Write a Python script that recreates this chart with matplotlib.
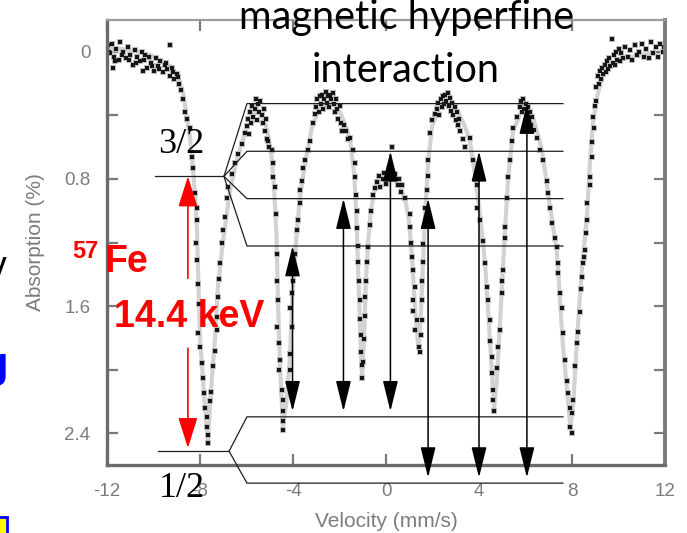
import matplotlib.pyplot as plt
from matplotlib.patches import Rectangle

plt.rcParams['font.family'] = ['Liberation Sans', 'DejaVu Sans']
plt.rcParams['axes.unicode_minus'] = False

# Measured 57Fe Moessbauer spectrum: velocity (mm/s) and absorption (%)
meas_v = [
    # left wing
    -11.95, -11.85, -11.78, -11.74, -11.7, -11.6, -11.5, -11.42, -11.3, -11.2, -11.1, -11.0,
    -10.9, -10.8, -10.7, -10.6, -10.5, -10.45, -10.4, -10.3, -10.2, -10.1, -10.0, -9.9,
    -9.8, -9.7, -9.6, -9.5, -9.4, -9.3, -9.29, -9.2, -9.1, -9.0, -8.9, -8.8, -8.72,
    -11.9, -11.65, -11.35, -11.05, -10.75, -10.35, -10.05, -9.75, -9.45, -9.15, -8.95,
    # line 1
    -8.65, -8.56, -8.43, -8.34, -8.30, -8.22, -8.13, -8.13, -8.17, -8.13, -8.09, -8.04,
    -8.09, -8.00, -7.91, -7.87, -7.83, -7.78, -7.70, -7.70, -7.66, -7.66,
    -7.57, -7.53, -7.44, -7.35, -7.27, -7.27, -7.23, -7.18, -7.14, -7.05, -7.01, -6.92,
    -6.84, -6.80, -6.62, -6.49, -6.37, -6.19, -6.06,
    -6.0, -5.95, -5.9, -5.85, -5.8, -5.75, -5.7, -5.65, -5.6, -5.55, -5.5, -5.45,
    -5.4, -5.35, -5.3, -5.25, -5.2, -5.15, -5.1, -5.05,
    # line 2
    -5.08, -4.90, -4.86, -4.86, -4.77, -4.73, -4.69, -4.69, -4.65, -4.69, -4.60, -4.56,
    -4.60, -4.47, -4.43, -4.43, -4.43, -4.43,
    -4.13, -4.13, -4.04, -4.13, -4.04, -4.00, -3.91, -3.83, -3.78, -3.70, -3.70, -3.61,
    -3.57, -3.48, -3.35, -3.27, -3.14, -3.05,
    -3.0, -2.95, -2.9, -2.85, -2.8, -2.75, -2.7, -2.65, -2.6, -2.55, -2.5, -2.45,
    -2.4, -2.35, -2.3, -2.25, -2.2, -2.15, -2.1, -2.05, -2.0, -1.95, -1.9,
    -1.8, -1.7, -1.62,
    # line 3
    -1.55, -1.42, -1.33, -1.33, -1.29, -1.25, -1.25, -1.20, -1.20, -1.16, -1.12, -1.12,
    -1.08, -1.08, -1.03, -1.03,
    -0.99, -0.95, -0.90, -0.90, -0.86, -0.82, -0.77, -0.69, -0.65, -0.56, -0.47,
    -0.4, -0.3, -0.25, -0.15, -0.1, 0.0, 0.05, 0.15, 0.24, 0.3, 0.4, 0.5, 0.55, 0.65,
    0.7, 0.8,
    # line 4
    1.03, 1.03, 1.08, 1.12, 1.16, 1.25, 1.16, 1.16, 1.33, 1.25, 1.42, 1.46,
    1.51, 1.55, 1.55, 1.55, 1.59, 1.59, 1.68, 1.68, 1.76, 1.81, 1.81, 1.89, 1.98, 2.11,
    2.2, 2.25, 2.3, 2.35, 2.4, 2.45, 2.5, 2.55, 2.6, 2.65, 2.7, 2.75,
    2.8, 2.85, 2.9, 2.95, 3.0, 3.05, 3.1, 3.15, 3.2, 3.3, 3.4,
    # line 5
    3.61, 3.74, 3.91, 3.91, 4.04, 4.17, 4.26, 4.34, 4.39, 4.47, 4.47, 4.56,
    4.56, 4.60, 4.60, 4.65,
    4.77, 4.82, 4.90, 4.99, 4.99, 5.03, 5.12, 5.12, 5.20, 5.25, 5.33, 5.42,
    5.46, 5.63, 5.76,
    5.8, 5.85, 5.9, 5.95, 6.0, 6.05, 6.1, 6.15, 6.2, 6.25, 6.3, 6.38,
    # line 6
    6.49, 6.62, 6.75, 6.92, 6.97, 7.05, 7.14, 7.27, 7.35, 7.40, 7.40, 7.48,
    7.57, 7.61, 7.70, 7.78, 7.83, 7.91, 8.00, 7.91, 8.00,
    8.04, 8.13, 8.22, 8.26, 8.34, 8.39, 8.43, 8.47, 8.52, 8.56, 8.60, 8.65,
    8.65, 8.77, 8.77, 8.86, 8.86, 8.95, 8.90, 8.99, 9.03,
    # right wing
    9.05, 9.1, 9.15, 9.2, 9.25, 9.3, 9.35, 9.4, 9.45, 9.5, 9.55, 9.6,
    9.65, 9.7, 9.75, 9.8, 9.85, 9.9, 9.95, 10.0, 10.05, 10.1, 10.2, 10.3,
    10.4, 10.5, 10.6, 10.7, 10.8, 10.9, 11.0, 11.1, 11.2, 11.3, 11.4, 11.5,
    11.6, 11.7, 11.8, 11.9, 11.95,
]
meas_a = [
    # left wing
    -0.04, 0.01, -0.05, 0.10, 0.03, -0.02, 0.05, -0.06, 0.00, 0.04, -0.03, 0.02,
    0.08, -0.01, 0.03, 0.06, 0.00, 0.12, 0.05, 0.10, 0.03, 0.07, 0.12, 0.04,
    0.09, 0.06, 0.13, 0.08, 0.11, 0.15, -0.04, 0.10, 0.17, 0.14, 0.20, 0.24, 0.30,
    0.00, 0.06, 0.02, 0.05, 0.07, 0.02, 0.09, 0.11, 0.07, 0.13, 0.16,
    # line 1
    0.38, 0.42, 0.48, 0.66, 0.73, 0.89, 0.98, 1.06, 1.20, 1.31, 1.46, 1.59,
    1.77, 1.86, 1.96, 2.05, 2.15, 2.24, 2.30, 2.36, 2.41, 2.46,
    2.20, 2.14, 1.98, 1.88, 1.75, 1.67, 1.54, 1.43, 1.33, 1.20, 1.12, 1.04,
    0.92, 0.85, 0.77, 0.70, 0.64, 0.58, 0.51,
    0.47, 0.42, 0.52, 0.38, 0.45, 0.34, 0.41, 0.36, 0.30, 0.43, 0.33, 0.38,
    0.31, 0.40, 0.45, 0.36, 0.50, 0.42, 0.55, 0.60,
    # line 2
    0.56, 0.62, 0.70, 0.79, 0.85, 1.02, 1.27, 1.44, 1.56, 1.73, 1.83, 1.94,
    2.00, 2.13, 2.19, 2.26, 2.32, 2.38,
    2.00, 1.90, 1.73, 1.61, 1.52, 1.44, 1.27, 1.12, 1.06, 0.95, 0.87, 0.81,
    0.73, 0.68, 0.62, 0.56, 0.45, 0.39,
    0.35, 0.30, 0.38, 0.28, 0.33, 0.27, 0.36, 0.30, 0.25, 0.32, 0.28, 0.35,
    0.27, 0.30, 0.26, 0.33, 0.38, 0.30, 0.36, 0.42, 0.34, 0.45, 0.50,
    0.46, 0.50, 0.55,
    # line 3
    0.54, 0.62, 0.70, 0.79, 0.90, 1.00, 1.11, 1.22, 1.32, 1.44, 1.56, 1.68,
    1.78, 1.89, 1.97, 2.05,
    1.95, 1.81, 1.66, 1.54, 1.44, 1.32, 1.23, 1.09, 1.00, 0.90, 0.86,
    0.82, 0.78, 0.85, 0.80, 0.76, 0.83, 0.78, 0.74, 0.60, 0.80, 0.77, 0.84, 0.80, 0.88,
    0.84, 0.92,
    # line 4
    1.02, 1.10, 1.20, 1.29, 1.37, 1.48, 1.56, 1.63, 1.69, 1.75, 1.86, 1.89,
    1.78, 1.69, 1.56, 1.44, 1.32, 1.21, 1.09, 0.98, 0.87, 0.78, 0.68, 0.51, 0.43, 0.39,
    0.36, 0.32, 0.40, 0.30, 0.35, 0.28, 0.33, 0.27, 0.31, 0.26, 0.34, 0.29,
    0.37, 0.32, 0.40, 0.35, 0.43, 0.38, 0.46, 0.42, 0.50, 0.55, 0.60,
    # line 5
    0.54, 0.68, 0.84, 0.98, 1.06, 1.19, 1.33, 1.48, 1.56, 1.69, 1.82, 1.92,
    2.02, 2.13, 2.19, 2.26,
    1.99, 1.86, 1.75, 1.52, 1.44, 1.37, 1.17, 1.10, 0.92, 0.79, 0.68, 0.56,
    0.48, 0.41, 0.35,
    0.31, 0.38, 0.30, 0.36, 0.33, 0.40, 0.35, 0.43, 0.38, 0.46, 0.41, 0.49,
    # line 6
    0.54, 0.62, 0.68, 0.81, 0.89, 0.98, 1.08, 1.17, 1.23, 1.33, 1.39, 1.52,
    1.61, 1.77, 1.94, 2.07, 2.15, 2.24, 2.27, 2.36, 2.40,
    2.19, 1.98, 1.83, 1.76, 1.64, 1.49, 1.42, 1.33, 1.29, 1.25, 1.14, 1.06,
    0.95, 0.84, 0.79, 0.66, 0.57, 0.48, 0.41, 0.34, 0.31,
    # right wing
    0.22, 0.15, 0.20, 0.12, 0.17, 0.10, 0.14, 0.08, 0.13, 0.06, 0.11, 0.04,
    0.09, -0.08, 0.07, 0.02, 0.08, 0.00, 0.05, -0.02, 0.06, 0.01, 0.04, -0.03,
    0.03, -0.01, 0.05, -0.04, 0.02, 0.00, -0.05, 0.03, -0.02, 0.04, -0.06, 0.01,
    -0.03, 0.03, -0.05, 0.00, -0.03,
]

# Fitted six-line curve
fit_v = [-12.0, -11.0, -10.15, -9.6, -9.29, -9.05, -8.86, -8.7, -8.56, -8.42, -8.30, -8.20,
         -8.13, -8.07, -8.0, -7.91, -7.78, -7.66, -7.57, -7.45, -7.35, -7.23, -7.01, -6.71,
         -6.45, -6.19, -5.85, -5.55, -5.29, -5.1, -4.95, -4.83, -4.71, -4.64, -4.56, -4.43,
         -4.28, -4.13, -4.02, -3.83, -3.70, -3.48, -3.18, -2.84, -2.41, -1.98, -1.72, -1.52,
         -1.36, -1.26, -1.18, -1.10, -1.03, -0.95, -0.87, -0.77, -0.65, -0.50, -0.26, 0.17,
         0.6, 0.85, 0.98, 1.12, 1.25, 1.40, 1.50, 1.57, 1.68, 1.81, 1.98, 2.32,
         2.67, 3.10, 3.40, 3.61, 3.85, 4.04, 4.26, 4.39, 4.56, 4.65, 4.75, 4.86,
         4.99, 5.12, 5.25, 5.46, 5.89, 6.32, 6.71, 7.05, 7.35, 7.48, 7.61, 7.78,
         7.93, 8.05, 8.16, 8.30, 8.43, 8.65, 8.77, 8.90, 9.08, 9.33, 9.85, 10.92, 12.0]
fit_a = [-0.03, -0.01, 0.02, 0.06, 0.09, 0.13, 0.19, 0.28, 0.42, 0.55, 0.74, 0.93,
         1.12, 1.45, 1.80, 1.98, 2.25, 2.45, 2.22, 1.98, 1.80, 1.48, 1.19, 0.87,
         0.70, 0.57, 0.42, 0.36, 0.41, 0.50, 0.62, 0.82, 1.15, 1.60, 1.98, 2.36,
         2.20, 1.92, 1.50, 1.12, 0.92, 0.70, 0.47, 0.35, 0.31, 0.38, 0.47, 0.58,
         0.78, 1.10, 1.45, 1.80, 2.04, 1.82, 1.45, 1.20, 1.00, 0.88, 0.81, 0.79,
         0.84, 0.95, 1.05, 1.29, 1.62, 1.87, 1.65, 1.40, 1.03, 0.70, 0.47, 0.34,
         0.31, 0.38, 0.47, 0.56, 0.80, 1.02, 1.33, 1.62, 2.03, 2.24, 2.10, 1.82,
         1.47, 1.12, 0.80, 0.50, 0.35, 0.41, 0.62, 0.97, 1.26, 1.55, 1.85, 2.12,
         2.36, 2.22, 1.95, 1.62, 1.36, 1.02, 0.70, 0.45, 0.28, 0.14, 0.06, 0.02, 0.00]

# 57Fe nuclear levels, placed on the absorption scale
excited_level = 0.784
excited_split = [0.326, 0.626, 0.924, 1.222]
ground_level = 2.513
ground_split = [2.297, 2.714]

# allowed transitions: velocity, ground sublevel, excited sublevel
trans_v = [-4.02, -1.83, 0.19, 1.81, 4.0, 6.06]
trans_g = [0, 0, 0, 1, 1, 1]
trans_e = [3, 2, 1, 2, 1, 0]

x_ticks = [-12, -8, -4, 0, 4, 8, 12]
y_ticks = [0, 0.8, 1.6, 2.4]
y_tick_labels = ['0', '0.8', '1.6', '2.4']
y_minor = [0.4, 1.2, 2.0]

W, H = 687, 533
fig = plt.figure(figsize=(W / 100, H / 100), dpi=100)
ax = fig.add_axes([107 / W, 68 / H, 558 / W, 445 / H])


def fpos(x, y):
    # pixel position (from top-left) -> figure fraction
    return x / W, 1 - y / H


ax.plot(fit_v, fit_a, color='#d2d2d2', lw=3, zorder=1)
# soft halo under the points, then the points themselves
ax.plot(meas_v, meas_a, 's', ms=4.2, mew=0, color='#bdbdbd', zorder=2)
ax.plot(meas_v, meas_a, 's', ms=2.9, mew=0, color='#151515', zorder=2)

ax.set_xlim(-12, 12)
ax.set_ylim(2.6, -0.2)
ax.set_xticks(x_ticks)
ax.set_yticks(y_ticks)
ax.set_yticklabels(y_tick_labels)
ax.set_yticks(y_minor, minor=True)

grey = '#7c7c7c'
ax.tick_params(which='both', direction='in', color='#7a7a7a', width=1.6, length=8,
               labelcolor=grey, labelsize=13.5, top=True, right=True)
ax.tick_params(axis='x', pad=13)
ax.tick_params(axis='y', pad=12)
for side in ['left', 'bottom']:
    ax.spines[side].set_linewidth(2.4)
    ax.spines[side].set_color('#6b6b6b')
ax.spines['right'].set_linewidth(2.8)
ax.spines['right'].set_color('#7a7a7a')
ax.spines['top'].set_linewidth(1.6)
ax.spines['top'].set_color('#9c9c9c')

ax.set_xlabel('Velocity (mm/s)', fontsize=15, color=grey)
ax.xaxis.set_label_coords(0.5, -0.105)
ax.set_ylabel('Absorption (%)', fontsize=15, color=grey)
ax.yaxis.set_label_coords(-0.111, 0.5)

# level scheme: split excited (3/2) and ground (1/2) states
lk = dict(color='#1e1e1e', lw=0.9, clip_on=False, zorder=4)
ax.plot([-9.94, -6.97], [excited_level, excited_level], **lk)
for lv in excited_split:
    ax.plot([-6.97, -5.98, 7.61], [excited_level, lv, lv], **lk)
ax.plot([-9.81, -6.75], [ground_level, ground_level], **lk)
for lv in ground_split:
    ax.plot([-6.75, -5.98, 7.61], [ground_level, lv, lv], **lk)

for v, g, e in zip(trans_v, trans_g, trans_e):
    ax.annotate('', xy=(v, excited_split[e]), xytext=(v, ground_split[g]),
                annotation_clip=False, zorder=5,
                arrowprops=dict(arrowstyle='<|-|>,head_length=19,head_width=4.7',
                                mutation_scale=1, color='black', lw=1.1,
                                shrinkA=4, shrinkB=0))

# 14.4 keV gamma transition
red_kw = dict(arrowstyle='-|>,head_length=19,head_width=6', mutation_scale=1,
              color='#ff0000', lw=1.2, shrinkA=0, shrinkB=0)
ax.annotate('', xy=(-8.52, excited_level), xytext=(-8.52, 1.425),
            annotation_clip=False, zorder=5, arrowprops=red_kw)
ax.annotate('', xy=(-8.52, ground_level - 0.02), xytext=(-8.52, 1.865),
            annotation_clip=False, zorder=5, arrowprops=red_kw)

fig.text(*fpos(407, 29), 'magnetic hyperfine', ha='center', va='baseline',
         fontsize=28.5, family='Lato')
fig.text(*fpos(406, 82), 'interaction', ha='center', va='baseline',
         fontsize=28.5, family='Lato')
fig.text(*fpos(181, 153), '3/2', ha='center', va='baseline', fontsize=26,
         family='Liberation Serif')
fig.text(*fpos(182, 497), '1/2', ha='center', va='baseline', fontsize=26,
         family='Liberation Serif')
fig.text(*fpos(72, 258), '57', ha='left', va='baseline', fontsize=17,
         weight='bold', color='#ff0000')
fig.text(*fpos(104, 272), 'Fe', ha='left', va='baseline', fontsize=27,
         weight='bold', color='#ff0000')
fig.text(*fpos(114, 327), '14.4 keV', ha='left', va='baseline', fontsize=27,
         weight='bold', color='#ff0000')

# slide text running off the left edge
fig.text(*fpos(7, 278), 'y', ha='right', va='baseline', fontsize=27)
fig.text(*fpos(8, 377), 'g', ha='right', va='baseline', fontsize=30,
         weight='bold', color='#0000ff')
fig.patches.append(Rectangle(fpos(-12, 545), 19 / W, 28 / H, transform=fig.transFigure,
                             facecolor='#ffff00', edgecolor='#0000ff', lw=2))

fig.savefig('out.png', dpi=100)
